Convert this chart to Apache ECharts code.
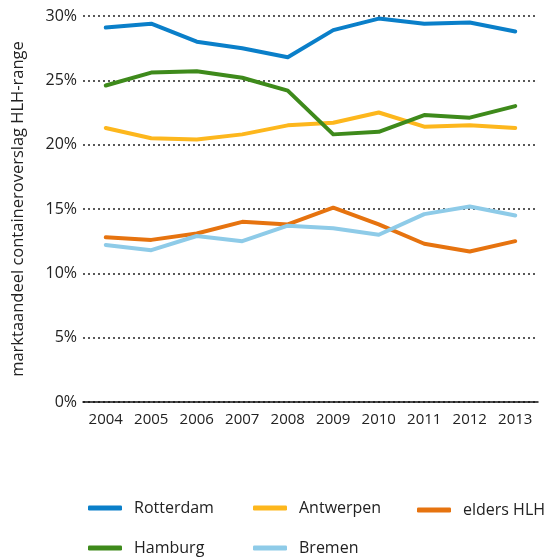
<!DOCTYPE html>
<html lang="nl">
<head>
<meta charset="UTF-8">
<title>Marktaandeel containeroverslag</title>
<script src="https://cdn.jsdelivr.net/npm/echarts@6/dist/echarts.min.js"></script>
<style>
  * { margin: 0; padding: 0; }
  body { background: #fff; }
  #main { width: 546px; height: 558px; }
</style>
</head>
<body>
<div id="main"></div>
<script>
const years = ['2004', '2005', '2006', '2007', '2008', '2009', '2010', '2011', '2012', '2013'];

const rotterdam = [29.1, 29.4, 28.0, 27.5, 26.8, 28.9, 29.8, 29.4, 29.5, 28.8];
const antwerpen = [21.3, 20.5, 20.4, 20.8, 21.5, 21.7, 22.5, 21.4, 21.5, 21.3];
const eldersHLH = [12.8, 12.6, 13.1, 14.0, 13.8, 15.1, 13.8, 12.3, 11.7, 12.5];
const hamburg   = [24.6, 25.6, 25.7, 25.2, 24.2, 20.8, 21.0, 22.3, 22.1, 23.0];
const bremen    = [12.2, 11.8, 12.9, 12.5, 13.7, 13.5, 13.0, 14.6, 15.2, 14.5];

const colors = {
  'Rotterdam': '#0a7fc9',
  'Antwerpen': '#fdb71d',
  'elders HLH': '#e6730f',
  'Hamburg': '#3e8a1b',
  'Bremen': '#8ecbe8'
};

const font = '"Open Sans", "Noto Sans", sans-serif';

function line(name, data) {
  return {
    name: name,
    type: 'line',
    data: data,
    symbol: 'none',
    color: colors[name],
    lineStyle: { width: 4, color: colors[name], cap: 'round', join: 'round' }
  };
}

// one legend per item so they line up in columns like the original
function legendItem(name, left, top) {
  return {
    data: [name],
    left: left,
    top: top,
    padding: 0,
    icon: 'roundRect',
    itemWidth: 34,
    itemHeight: 5,
    selectedMode: false,
    textStyle: { fontFamily: font, fontSize: 16, color: '#222', padding: [0, 0, 0, 7] }
  };
}

const chart = echarts.init(document.getElementById('main'));
chart.setOption({
  animation: false,
  grid: { left: 83, right: 8, top: 16, bottom: 156 },
  legend: [
    legendItem('Rotterdam', 88, 500),
    legendItem('Antwerpen', 253, 500),
    legendItem('elders HLH', 417, 502),
    legendItem('Hamburg', 88, 540),
    legendItem('Bremen', 253, 540)
  ],
  xAxis: {
    type: 'category',
    data: years,
    boundaryGap: true,
    axisLine: { lineStyle: { color: '#111', width: 1.5 } },
    axisTick: { alignWithLabel: true, inside: true, length: 9, lineStyle: { color: '#111', width: 1.5 } },
    axisLabel: { fontFamily: font, fontSize: 15, color: '#222', margin: 10 }
  },
  yAxis: {
    type: 'value',
    min: 0,
    max: 30,
    interval: 5,
    name: 'marktaandeel containeroverslag HLH-range',
    nameLocation: 'middle',
    nameRotate: 90,
    nameGap: 56,
    nameTextStyle: { fontFamily: font, fontSize: 16.5, color: '#222' },
    axisLine: { show: false },
    axisTick: { show: false },
    axisLabel: { fontFamily: font, fontSize: 16, color: '#222', margin: 6, formatter: '{value}%' },
    splitLine: { lineStyle: { color: '#222', width: 1.5, type: [2, 3] } }
  },
  series: [
    line('Rotterdam', rotterdam),
    line('Antwerpen', antwerpen),
    line('elders HLH', eldersHLH),
    line('Hamburg', hamburg),
    line('Bremen', bremen)
  ]
});
</script>
</body>
</html>
